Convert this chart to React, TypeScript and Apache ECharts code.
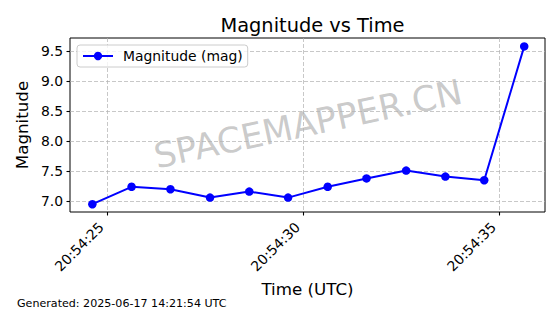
import React, { useEffect, useRef } from "react";
import * as echarts from "echarts";

// seconds after 20:54:00 UTC
const timeSeconds = [24.63, 25.63, 26.62, 27.63, 28.63, 29.62, 30.63, 31.62, 32.63, 33.63, 34.62, 35.64];
const magnitudes = [6.95, 7.24, 7.2, 7.06, 7.16, 7.06, 7.24, 7.38, 7.51, 7.41, 7.35, 9.58];
const xTickValues = [25, 30, 35];
const xTickLabels = ["20:54:25", "20:54:30", "20:54:35"];
const yTickValues = [7.0, 7.5, 8.0, 8.5, 9.0, 9.5];
const yTickLabels = ["7.0", "7.5", "8.0", "8.5", "9.0", "9.5"];
const seriesName = "Magnitude (mag)";

const FONT = "DejaVu Sans";

export default function App() {
  const ref = useRef<HTMLDivElement>(null);
  useEffect(() => {
    if (!ref.current) return;
    const chart = echarts.init(ref.current, null, { renderer: "svg" });
    const data = timeSeconds.map((t, i) => [t, magnitudes[i]]);
    chart.setOption({
      animation: false,
      backgroundColor: "#ffffff",
      title: {
        text: "Magnitude vs Time",
        left: 307.5,
        textAlign: "center",
        top: 11,
        textStyle: { fontFamily: FONT, fontSize: 19.4, fontWeight: "normal", color: "#000" },
      },
      grid: {
        left: 70,
        right: 15,
        top: 38,
        bottom: 102,
        show: true,
        borderColor: "#000",
        borderWidth: 1,
        backgroundColor: "transparent",
      },
      legend: {
        data: [seriesName],
        left: 77,
        top: 45,
        orient: "vertical",
        padding: [4, 5, 4, 5],
        itemWidth: 30,
        itemHeight: 10.5,
        backgroundColor: "rgba(255,255,255,0.8)",
        borderColor: "#cccccc",
        borderWidth: 1,
        borderRadius: 3,
        textStyle: { fontFamily: FONT, fontSize: 13.9, color: "#000", padding: [0, 0, 0, 5] },
      },
      xAxis: {
        type: "value",
        min: 24.06,
        max: 36.17,
        name: "Time (UTC)",
        nameLocation: "middle",
        nameGap: 65,
        nameTextStyle: { fontFamily: FONT, fontSize: 16.7, color: "#000" },
        axisLine: { show: false },
        axisTick: {
          show: true,
          length: 3.5,
          customValues: xTickValues,
          lineStyle: { color: "#000", width: 1.1 },
        },
        axisLabel: {
          customValues: xTickValues,
          rotate: 45,
          margin: 7,
          padding: [0, 8, 0, 0],
          fontFamily: FONT,
          fontSize: 13.9,
          color: "#000",
          formatter: (v: number) => {
            const idx = xTickValues.findIndex((x) => Math.abs(x - v) < 1e-6);
            return idx >= 0 ? xTickLabels[idx] : "";
          },
        },
        splitLine: {
          show: true,
          lineStyle: { color: "#b0b0b0", opacity: 0.7, width: 1, type: [4, 2] },
        },
      },
      yAxis: {
        type: "value",
        min: 6.82,
        max: 9.72,
        name: "Magnitude",
        nameLocation: "middle",
        nameGap: 36,
        nameTextStyle: { fontFamily: FONT, fontSize: 16.7, color: "#000" },
        axisLine: { show: false },
        axisTick: {
          show: true,
          length: 3.5,
          customValues: yTickValues,
          lineStyle: { color: "#000", width: 1.1 },
        },
        axisLabel: {
          customValues: yTickValues,
          margin: 7,
          fontFamily: FONT,
          fontSize: 13.9,
          color: "#000",
          formatter: (v: number) => {
            const idx = yTickValues.findIndex((y) => Math.abs(y - v) < 1e-6);
            return idx >= 0 ? yTickLabels[idx] : "";
          },
        },
        splitLine: {
          show: true,
          lineStyle: { color: "#b0b0b0", opacity: 0.7, width: 1, type: [4, 2] },
        },
      },
      graphic: [
        {
          type: "text",
          x: 308,
          y: 124,
          rotation: (12 * Math.PI) / 180,
          z: -1,
          silent: true,
          style: {
            text: "SPACEMAPPER.CN",
            fontFamily: FONT,
            fontSize: 35,
            fill: "rgba(128,128,128,0.42)",
            align: "center",
            verticalAlign: "middle",
          },
        },
        {
          type: "text",
          left: 17,
          top: 298,
          style: {
            text: "Generated: 2025-06-17 14:21:54 UTC",
            fontFamily: FONT,
            fontSize: 11.1,
            fill: "#000",
          },
        },
      ],
      series: [
        {
          name: seriesName,
          type: "line",
          data,
          color: "#0000ff",
          symbol: "circle",
          symbolSize: 8.5,
          showSymbol: true,
          lineStyle: { color: "#0000ff", width: 2 },
          itemStyle: { color: "#0000ff" },
          z: 5,
        },
      ],
    });
    return () => chart.dispose();
  }, []);
  return (
    <div
      ref={ref}
      style={{ position: "fixed", left: 0, top: 0, width: 560, height: 314 }}
    />
  );
}
